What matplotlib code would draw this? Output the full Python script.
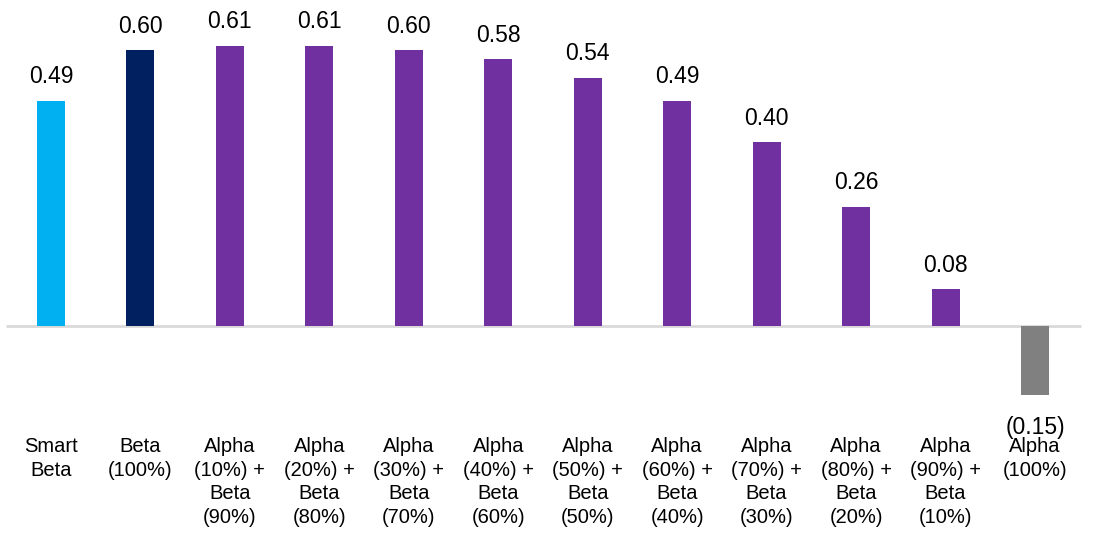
import numpy as np
import matplotlib.pyplot as plt

plt.rcParams['font.family'] = ['Liberation Sans', 'DejaVu Sans']

categories = ['Smart\nBeta', 'Beta\n(100%)',
              'Alpha\n(10%) +\nBeta\n(90%)', 'Alpha\n(20%) +\nBeta\n(80%)',
              'Alpha\n(30%) +\nBeta\n(70%)', 'Alpha\n(40%) +\nBeta\n(60%)',
              'Alpha\n(50%) +\nBeta\n(50%)', 'Alpha\n(60%) +\nBeta\n(40%)',
              'Alpha\n(70%) +\nBeta\n(30%)', 'Alpha\n(80%) +\nBeta\n(20%)',
              'Alpha\n(90%) +\nBeta\n(10%)', 'Alpha\n(100%)']
values = [0.49, 0.60, 0.61, 0.61, 0.60, 0.58, 0.54, 0.49, 0.40, 0.26, 0.08, -0.15]
colors = ['#00B0F0', '#002060'] + ['#7030A0'] * 9 + ['#808080']

fig = plt.figure(figsize=(10.94, 5.35), dpi=100)
ax = fig.add_axes([0, 0, 1, 1])

x = np.arange(len(values))
ax.bar(x, values, width=0.313, color=colors, zorder=2)
# zero line
ax.plot([-0.503, 11.514], [0, 0], color='#d9d9d9', lw=2, zorder=1,
        solid_capstyle='butt')

for xi, v in zip(x, values):
    if v >= 0:
        ax.annotate(f'{v:.2f}', (xi, v), xytext=(0, 9), textcoords='offset points',
                    ha='center', va='bottom', fontsize=16.5)
    else:
        ax.annotate(f'({abs(v):.2f})', (xi, v), xytext=(0, -15), textcoords='offset points',
                    ha='center', va='top', fontsize=16.5)

for xi, lab in zip(x, categories):
    ax.text(xi, -0.241, lab, ha='center', va='top', fontsize=14.5,
            multialignment='center', linespacing=1.3)

ax.set_xlim(-0.570, 11.66)
ax.set_ylim(-0.454, 0.709)
ax.axis('off')

fig.savefig('out.png', dpi=100)
